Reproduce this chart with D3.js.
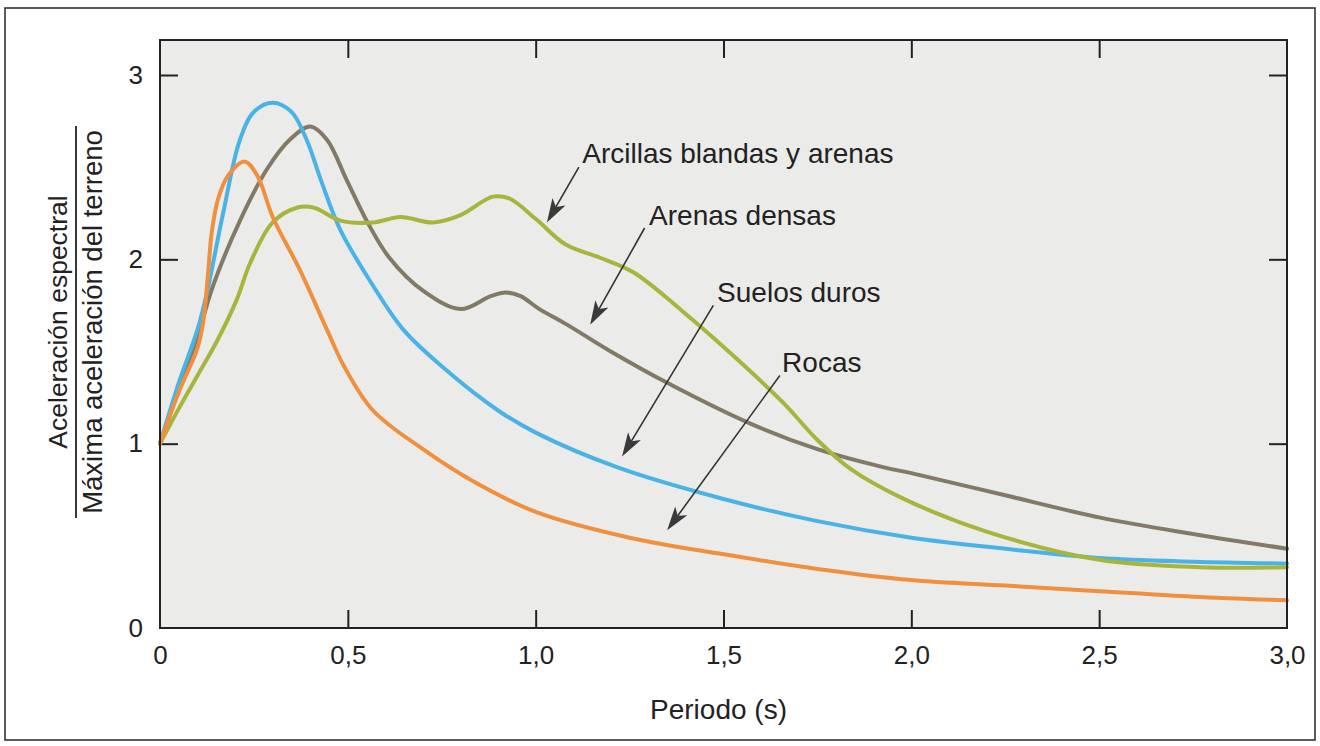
<!DOCTYPE html>
<html>
<head>
<meta charset="utf-8">
<script src="https://cdn.jsdelivr.net/npm/d3@7"></script>
<style>
  html, body { margin: 0; padding: 0; background: #ffffff; }
  svg { display: block; font-family: "Liberation Sans", Arial, Helvetica, sans-serif; }
</style>
</head>
<body>
<svg id="chart" width="1320" height="746"></svg>
<script>
// ---- Data (Periodo [s], Aceleración espectral / Máxima aceleración del terreno) ----
const rocas = [
  [0,1],[0.05,1.28],[0.1,1.52],[0.115,1.66],[0.127,1.9],[0.138,2.15],[0.155,2.33],[0.18,2.45],
  [0.226,2.53],[0.26,2.45],[0.30,2.23],[0.373,1.94],[0.444,1.62],[0.49,1.42],[0.567,1.18],
  [0.70,0.97],[0.83,0.8],[1.0,0.63],[1.25,0.49],[1.5,0.4],[1.75,0.32],[2.0,0.26],
  [2.25,0.23],[2.5,0.2],[2.75,0.17],[3.0,0.15]
];
const suelosDuros = [
  [0,1],[0.05,1.33],[0.1,1.62],[0.125,1.82],[0.168,2.25],[0.213,2.65],[0.25,2.8],[0.3,2.85],
  [0.35,2.8],[0.39,2.65],[0.43,2.42],[0.48,2.16],[0.56,1.88],[0.647,1.62],[0.75,1.42],
  [0.9,1.18],[1.0,1.06],[1.22,0.87],[1.5,0.7],[1.75,0.58],[2.0,0.49],[2.25,0.43],
  [2.5,0.38],[2.75,0.36],[3.0,0.35]
];
const arenasDensas = [
  [0,1],[0.05,1.3],[0.1,1.58],[0.14,1.85],[0.213,2.21],[0.285,2.49],[0.346,2.65],[0.40,2.72],
  [0.444,2.65],[0.497,2.43],[0.55,2.21],[0.61,2.01],[0.70,1.83],[0.80,1.73],[0.88,1.8],
  [0.92,1.82],[0.96,1.8],[1.01,1.73],[1.08,1.65],[1.2,1.5],[1.35,1.33],[1.57,1.11],
  [1.75,0.97],[1.93,0.87],[2.0,0.84],[2.25,0.72],[2.5,0.60],[2.75,0.51],[3.0,0.43]
];
const arcillasBlandas = [
  [0,1],[0.05,1.19],[0.1,1.37],[0.15,1.55],[0.204,1.78],[0.24,1.98],[0.3,2.2],[0.364,2.28],
  [0.41,2.28],[0.48,2.21],[0.567,2.2],[0.64,2.23],[0.727,2.2],[0.8,2.24],[0.886,2.34],
  [0.93,2.33],[1.0,2.22],[1.08,2.08],[1.17,2.01],[1.26,1.93],[1.39,1.72],[1.53,1.47],
  [1.66,1.22],[1.75,1.02],[1.84,0.86],[1.97,0.71],[2.19,0.53],[2.5,0.37],[2.77,0.33],[3.0,0.33]
];

const xTickValues = [0, 0.5, 1.0, 1.5, 2.0, 2.5, 3.0];
const xTickLabels = ["0", "0,5", "1,0", "1,5", "2,0", "2,5", "3,0"];
const yTickValues = [0, 1, 2, 3];
const yTickLabels = ["0", "1", "2", "3"];

const seriesNames = ["Arenas densas", "Suelos duros", "Arcillas blandas y arenas", "Rocas"];
const seriesColors = ["#827a64", "#49b3e6", "#a8b53c", "#f0903e"];
const xTitle = "Periodo (s)";
const yTitleTop = "Aceleración espectral";
const yTitleBottom = "Máxima aceleración del terreno";

// annotation: label text, label anchor (data coords), arrow start and tip (data coords)
const annotLabels = ["Arcillas blandas y arenas", "Arenas densas", "Suelos duros", "Rocas"];
const annotTextPos = [[1.124, 2.52], [1.302, 2.185], [1.483, 1.77], [1.656, 1.39]];
const annotArrowStart = [[1.115, 2.5], [1.29, 2.17], [1.473, 1.75], [1.65, 1.37]];
const annotArrowTip = [[1.03, 2.2], [1.145, 1.645], [1.23, 0.93], [1.35, 0.53]];

// ---- Layout ----
const svg = d3.select("#chart");
const m = { left: 160, top: 40, right: 1287, bottom: 628 };

const x = d3.scaleLinear().domain([0, 3]).range([m.left, m.right]);
const y = d3.scaleLinear().domain([0, 3]).range([m.bottom, m.top + 35]);

// outer figure frame
svg.append("rect")
  .attr("x", 5).attr("y", 8).attr("width", 1310).attr("height", 732)
  .attr("fill", "none").attr("stroke", "#333").attr("stroke-width", 1.6);

// plot background
svg.append("rect")
  .attr("x", m.left).attr("y", m.top)
  .attr("width", m.right - m.left).attr("height", m.bottom - m.top)
  .attr("fill", "#ebebea");

// axes
const fmtX = (d) => xTickLabels[xTickValues.indexOf(d)];
const fmtY = (d) => yTickLabels[yTickValues.indexOf(d)];

const axB = svg.append("g").attr("transform", `translate(0,${m.bottom})`)
  .call(d3.axisBottom(x).tickValues(xTickValues).tickFormat(fmtX).tickSizeInner(-18).tickSizeOuter(0).tickPadding(18));
const axT = svg.append("g").attr("transform", `translate(0,${m.top})`)
  .call(d3.axisTop(x).tickValues(xTickValues.slice(1, -1)).tickFormat("").tickSizeInner(-18).tickSizeOuter(0));
const axL = svg.append("g").attr("transform", `translate(${m.left},0)`)
  .call(d3.axisLeft(y).tickValues(yTickValues).tickFormat(fmtY).tickSizeInner(-18).tickSizeOuter(0).tickPadding(17));
const axR = svg.append("g").attr("transform", `translate(${m.right},0)`)
  .call(d3.axisRight(y).tickValues(yTickValues.slice(1)).tickFormat("").tickSizeInner(-18).tickSizeOuter(0));

[axB, axT, axL, axR].forEach(g => {
  g.select(".domain").remove();
  g.selectAll(".tick line").attr("stroke", "#222").attr("stroke-width", 2);
  g.selectAll(".tick text").attr("fill", "#222").style("font-size", "26px")
    .style("font-family", "'Liberation Sans', Arial, sans-serif");
});
axL.selectAll(".tick line").filter(d => d === 0).remove();
axB.selectAll(".tick line").filter(d => d === 0 || d === 3).remove();

// curves
const line = d3.line().x(d => x(d[0])).y(d => y(d[1])).curve(d3.curveCatmullRom.alpha(0.5));
const allSeries = [arenasDensas, suelosDuros, arcillasBlandas, rocas];
allSeries.forEach((s, i) => {
  svg.append("path").datum(s)
    .attr("d", line)
    .attr("fill", "none")
    .attr("stroke", seriesColors[i])
    .attr("stroke-width", 4)
    .attr("stroke-linejoin", "round")
    .attr("stroke-linecap", "round")
    .attr("aria-label", seriesNames[i]);
});

// plot frame
svg.append("rect")
  .attr("x", m.left).attr("y", m.top)
  .attr("width", m.right - m.left).attr("height", m.bottom - m.top)
  .attr("fill", "none").attr("stroke", "#222").attr("stroke-width", 2);

// annotations with arrows (arrowheads drawn as polygons)
const headLen = 24, headHalf = 7.5;
annotLabels.forEach((t, i) => {
  const x1 = x(annotArrowStart[i][0]), y1 = y(annotArrowStart[i][1]);
  const x2 = x(annotArrowTip[i][0]), y2 = y(annotArrowTip[i][1]);
  const dx = x2 - x1, dy = y2 - y1, L = Math.hypot(dx, dy);
  const ux = dx / L, uy = dy / L, px = -uy, py = ux;
  const bx = x2 - ux * headLen, by = y2 - uy * headLen;
  const nx = x2 - ux * headLen * 0.75, ny = y2 - uy * headLen * 0.75;
  svg.append("line")
    .attr("x1", x1).attr("y1", y1).attr("x2", nx).attr("y2", ny)
    .attr("stroke", "#333").attr("stroke-width", 1.6);
  svg.append("path")
    .attr("d", `M${x2},${y2} L${bx + px * headHalf},${by + py * headHalf} L${nx},${ny} L${bx - px * headHalf},${by - py * headHalf} Z`)
    .attr("fill", "#3a3a3a");
  svg.append("text")
    .attr("x", x(annotTextPos[i][0])).attr("y", y(annotTextPos[i][1]))
    .attr("fill", "#222").style("font-size", "28px")
    .text(t);
});

// axis titles
svg.append("text")
  .attr("x", (m.left + m.right) / 2 - 5).attr("y", 719)
  .attr("text-anchor", "middle").attr("fill", "#222").style("font-size", "28px")
  .text(xTitle);

const yT = svg.append("g").attr("transform", "translate(0,322) rotate(-90)");
yT.append("text").attr("x", 0).attr("y", 67).attr("text-anchor", "middle")
  .attr("fill", "#222").style("font-size", "26.5px").text(yTitleTop);
yT.append("line").attr("x1", -196).attr("x2", 196).attr("y1", 76).attr("y2", 76)
  .attr("stroke", "#222").attr("stroke-width", 1.8);
yT.append("text").attr("x", 0).attr("y", 102).attr("text-anchor", "middle")
  .attr("fill", "#222").style("font-size", "27.5px").text(yTitleBottom);
</script>
</body>
</html>
